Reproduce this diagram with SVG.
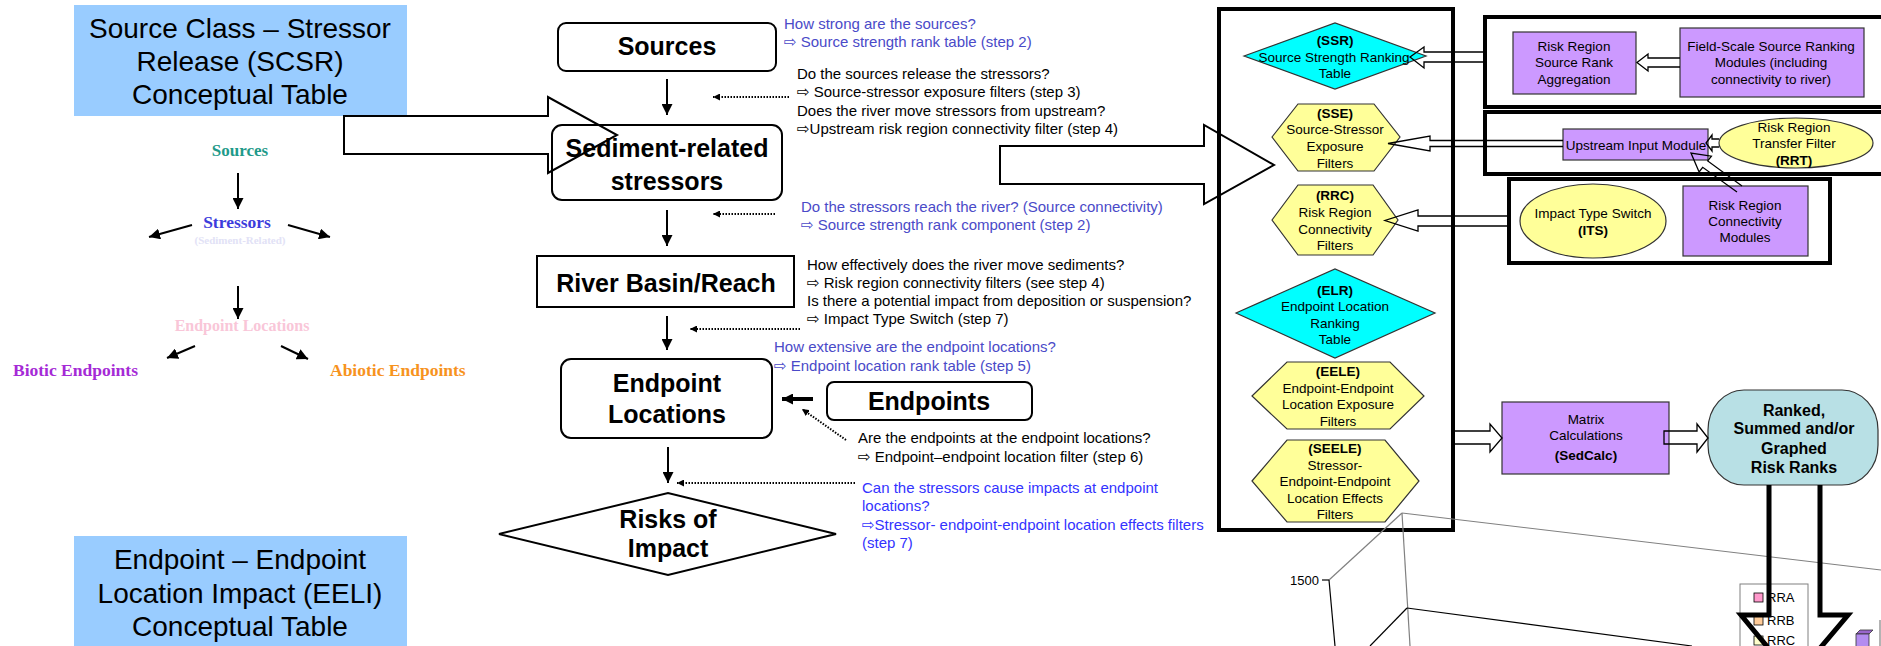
<svg xmlns="http://www.w3.org/2000/svg" width="1881" height="646" viewBox="0 0 1881 646">
  <defs>
    <style>
      .title { font-family: 'Liberation Sans', Arial, sans-serif; font-size: 28px; fill: #000; text-anchor: middle; }
      .nd { font-family: 'Liberation Sans', Arial, sans-serif; font-size: 25px; font-weight: bold; fill: #000; text-anchor: middle; }
      .q { font-family: 'Liberation Sans', 'DejaVu Sans', Arial, sans-serif; font-size: 15px; fill: #000; }
      .qb { fill: #4a4ac8; }
      .qc { fill: #3333ff; }
      .sm { font-family: 'Liberation Sans', Arial, sans-serif; font-size: 13.5px; fill: #000; text-anchor: middle; }
      .b { font-weight: bold; }
      .rk { font-family: 'Liberation Sans', Arial, sans-serif; font-size: 16px; font-weight: bold; fill: #000; text-anchor: middle; }
      .ser { font-family: 'Liberation Serif', 'Times New Roman', serif; font-weight: bold; }
      .lg { font-family: 'Liberation Sans', Arial, sans-serif; font-size: 13px; fill: #000; }
      .box { fill: #fff; stroke: #000; stroke-width: 2; }
      .frame { fill: none; stroke: #000; stroke-width: 4; }
      .purple { fill: #cc99ff; stroke: #333; stroke-width: 1.2; }
      .yellow { fill: #ffff99; stroke: #333; stroke-width: 1.2; }
      .cyan { fill: #00ffff; stroke: #333; stroke-width: 1.2; }
      .flow { fill: none; stroke: #000; stroke-width: 2; }
      .dot { fill: none; stroke: #000; stroke-width: 2; stroke-dasharray: 1.5 1.5; }
      .hollow { fill: none; stroke: #000; stroke-width: 1.3; stroke-linejoin: miter; }
      .big { fill: none; stroke: #000; stroke-width: 2; }
      .grid { fill: none; stroke: #808080; stroke-width: 1.2; }
      .axis { fill: none; stroke: #000; stroke-width: 1.2; }
    </style>
    <marker id="ah" viewBox="0 0 10 10" refX="10" refY="5" markerWidth="11" markerHeight="11" markerUnits="userSpaceOnUse" orient="auto">
      <path d="M0,0 L10,5 L0,10 z" fill="#000"/>
    </marker>
    <marker id="ahs" viewBox="0 0 10 10" refX="10" refY="5" markerWidth="7" markerHeight="7" markerUnits="userSpaceOnUse" orient="auto">
      <path d="M0,0 L10,5 L0,10 z" fill="#000"/>
    </marker>
  </defs>

  <rect x="0" y="0" width="1881" height="646" fill="#fff"/>

  <!-- Left: conceptual table captions -->
  <g id="scsr-title">
    <rect x="74" y="5" width="333" height="111" fill="#99ccff"/>
    <text class="title" x="240" y="38">Source Class – Stressor</text>
    <text class="title" x="240" y="71">Release (SCSR)</text>
    <text class="title" x="240" y="104">Conceptual Table</text>
  </g>
  <g id="eeli-title">
    <rect x="74" y="536" width="333" height="110" fill="#99ccff"/>
    <text class="title" x="240" y="569">Endpoint – Endpoint</text>
    <text class="title" x="240" y="603">Location Impact (EELI)</text>
    <text class="title" x="240" y="636">Conceptual Table</text>
  </g>

  <!-- Left: small conceptual model -->
  <g id="concept-model">
    <text class="ser" x="240" y="156" font-size="17" fill="#1f9a8a" text-anchor="middle">Sources</text>
    <text class="ser" x="237" y="228" font-size="17.5" fill="#3c3cdc" text-anchor="middle">Stressors</text>
    <text class="ser" x="240" y="244" font-size="11" fill="#e2e2f6" text-anchor="middle">(Sediment-Related)</text>
    <text class="ser" x="242" y="331" font-size="16" fill="#f9c6d8" text-anchor="middle">Endpoint Locations</text>
    <text class="ser" x="13" y="376" font-size="17.5" fill="#a52ad6">Biotic Endpoints</text>
    <text class="ser" x="330" y="376" font-size="17.5" fill="#f7931e">Abiotic Endpoints</text>
    <line class="flow" x1="238" y1="173" x2="238" y2="209" marker-end="url(#ah)"/>
    <line class="flow" x1="192" y1="225" x2="149" y2="237" marker-end="url(#ah)"/>
    <line class="flow" x1="288" y1="225" x2="330" y2="237" marker-end="url(#ah)"/>
    <line class="flow" x1="238" y1="286" x2="238" y2="319" marker-end="url(#ah)"/>
    <line class="flow" x1="195" y1="346" x2="167" y2="358" marker-end="url(#ah)"/>
    <line class="flow" x1="281" y1="346" x2="308" y2="359" marker-end="url(#ah)"/>
  </g>

  <!-- Centre flowchart nodes -->
  <g id="sources">
    <rect class="box" x="558" y="23" width="218" height="48" rx="8"/>
    <text class="nd" x="667" y="55">Sources</text>
  </g>
  <g id="sediment-stressors">
    <rect class="box" x="552" y="125" width="230" height="75" rx="10"/>
    <text class="nd" x="667" y="157">Sediment-related</text>
    <text class="nd" x="667" y="190">stressors</text>
  </g>
  <g id="river-basin">
    <rect class="box" x="537" y="256" width="257" height="51"/>
    <text class="nd" x="666" y="292">River Basin/Reach</text>
  </g>
  <g id="endpoint-locations">
    <rect class="box" x="561" y="359" width="211" height="79" rx="10"/>
    <text class="nd" x="667" y="392">Endpoint</text>
    <text class="nd" x="667" y="423">Locations</text>
  </g>
  <g id="endpoints">
    <rect class="box" x="827" y="382" width="205" height="38" rx="7"/>
    <text class="nd" x="929" y="410">Endpoints</text>
  </g>
  <g id="risks">
    <polygon class="box" points="499,534 668,493 836,534 668,575"/>
    <text class="nd" x="668" y="528">Risks of</text>
    <text class="nd" x="668" y="557">Impact</text>
  </g>

  <!-- Centre questions -->
  <g id="questions">
    <text class="q qb" x="784" y="29">How strong are the sources?</text>
    <text class="q qb" x="784" y="47">⇨ Source strength rank table (step 2)</text>
    <text class="q" x="797" y="79">Do the sources release the stressors?</text>
    <text class="q" x="797" y="97">⇨ Source-stressor exposure filters (step 3)</text>
    <text class="q" x="797" y="116">Does the river move stressors from upstream?</text>
    <text class="q" x="797" y="134">⇨Upstream risk region connectivity filter (step 4)</text>
    <text class="q qb" x="801" y="212">Do the stressors reach the river? (Source connectivity)</text>
    <text class="q qb" x="801" y="230">⇨ Source strength rank component (step 2)</text>
    <text class="q" x="807" y="270">How effectively does the river move sediments?</text>
    <text class="q" x="807" y="288">⇨ Risk region connectivity filters (see step 4)</text>
    <text class="q" x="807" y="306">Is there a potential impact from deposition or suspension?</text>
    <text class="q" x="807" y="324">⇨ Impact Type Switch (step 7)</text>
    <text class="q qb" x="774" y="352">How extensive are the endpoint locations?</text>
    <text class="q qb" x="774" y="371">⇨ Endpoint location rank table (step 5)</text>
    <text class="q" x="858" y="443">Are the endpoints at the endpoint locations?</text>
    <text class="q" x="858" y="462">⇨ Endpoint–endpoint location filter (step 6)</text>
    <text class="q qc" x="862" y="493">Can the stressors cause impacts at endpoint</text>
    <text class="q qc" x="862" y="511">locations?</text>
    <text class="q qc" x="862" y="530">⇨Stressor- endpoint-endpoint location effects filters</text>
    <text class="q qc" x="862" y="548">(step 7)</text>
  </g>

  <!-- Right: filter column -->
  <g id="filter-column">
    <rect class="frame" x="1219" y="9" width="234" height="521"/>
  </g>
  <g id="ssr">
    <polygon class="cyan" points="1244,56 1335,23 1426,56 1335,89"/>
    <text class="sm b" x="1335" y="45">(SSR)</text>
    <text class="sm" x="1334" y="62">Source Strength Ranking</text>
    <text class="sm" x="1335" y="78">Table</text>
  </g>
  <g id="sse">
    <polygon class="yellow" points="1272,137 1298,104 1374,104 1400,137 1374,171 1298,171"/>
    <text class="sm b" x="1335" y="118">(SSE)</text>
    <text class="sm" x="1335" y="134">Source-Stressor</text>
    <text class="sm" x="1335" y="151">Exposure</text>
    <text class="sm" x="1335" y="168">Filters</text>
  </g>
  <g id="rrc">
    <polygon class="yellow" points="1272,220 1298,185 1373,185 1398,220 1373,255 1298,255"/>
    <text class="sm b" x="1335" y="200">(RRC)</text>
    <text class="sm" x="1335" y="217">Risk Region</text>
    <text class="sm" x="1335" y="234">Connectivity</text>
    <text class="sm" x="1335" y="250">Filters</text>
  </g>
  <g id="elr">
    <polygon class="cyan" points="1236,313 1335,269 1435,313 1335,358"/>
    <text class="sm b" x="1335" y="295">(ELR)</text>
    <text class="sm" x="1335" y="311">Endpoint Location</text>
    <text class="sm" x="1335" y="328">Ranking</text>
    <text class="sm" x="1335" y="344">Table</text>
  </g>
  <g id="eele">
    <polygon class="yellow" points="1252,396 1287,362 1390,362 1424,396 1390,429 1287,429"/>
    <text class="sm b" x="1338" y="376">(EELE)</text>
    <text class="sm" x="1338" y="393">Endpoint-Endpoint</text>
    <text class="sm" x="1338" y="409">Location Exposure</text>
    <text class="sm" x="1338" y="426">Filters</text>
  </g>
  <g id="seele">
    <polygon class="yellow" points="1252,481 1287,440 1385,440 1419,481 1385,522 1287,522"/>
    <text class="sm b" x="1335" y="453">(SEELE)</text>
    <text class="sm" x="1335" y="470">Stressor-</text>
    <text class="sm" x="1335" y="486">Endpoint-Endpoint</text>
    <text class="sm" x="1335" y="503">Location Effects</text>
    <text class="sm" x="1335" y="519">Filters</text>
  </g>

  <!-- Right: module groups -->
  <g id="source-ranking-group">
    <rect class="frame" x="1485" y="17" width="420" height="90"/>
  </g>
  <g id="rr-source-rank">
    <rect class="purple" x="1513" y="32" width="123" height="62"/>
    <text class="sm" x="1574" y="51">Risk Region</text>
    <text class="sm" x="1574" y="67">Source Rank</text>
    <text class="sm" x="1574" y="84">Aggregation</text>
  </g>
  <g id="field-scale">
    <rect class="purple" x="1680" y="28" width="184" height="69"/>
    <text class="sm" x="1771" y="51">Field-Scale Source Ranking</text>
    <text class="sm" x="1771" y="67">Modules (including</text>
    <text class="sm" x="1771" y="84">connectivity to river)</text>
  </g>
  <g id="upstream-group">
    <rect class="frame" x="1485" y="112" width="420" height="62"/>
  </g>
  <g id="upstream-input">
    <rect class="purple" x="1563" y="129" width="145" height="31"/>
    <text class="sm" x="1636" y="150">Upstream Input Module</text>
  </g>
  <g id="rrt">
    <ellipse class="yellow" cx="1796" cy="143" rx="77" ry="25"/>
    <text class="sm" x="1794" y="132">Risk Region</text>
    <text class="sm" x="1794" y="148">Transfer Filter</text>
    <text class="sm b" x="1794" y="165">(RRT)</text>
  </g>
  <g id="connectivity-group">
    <rect class="frame" x="1509" y="179" width="321" height="84"/>
  </g>
  <g id="its">
    <ellipse class="yellow" cx="1593" cy="221" rx="73" ry="37"/>
    <text class="sm" x="1593" y="218">Impact Type Switch</text>
    <text class="sm b" x="1593" y="235">(ITS)</text>
  </g>
  <g id="rr-connectivity">
    <rect class="purple" x="1683" y="186" width="125" height="70"/>
    <text class="sm" x="1745" y="210">Risk Region</text>
    <text class="sm" x="1745" y="226">Connectivity</text>
    <text class="sm" x="1745" y="242">Modules</text>
  </g>
  <g id="sedcalc">
    <rect class="purple" x="1502" y="402" width="167" height="72"/>
    <text class="sm" x="1586" y="424">Matrix</text>
    <text class="sm" x="1586" y="440">Calculations</text>
    <text class="sm b" x="1586" y="460" font-size="15">(SedCalc)</text>
  </g>

  <!-- Chart behind the output arrow -->
  <g id="chart">
    <line class="grid" x1="1402" y1="513" x2="1329" y2="580"/>
    <line class="grid" x1="1402" y1="513" x2="1881" y2="570"/>
    <line class="grid" x1="1402" y1="513" x2="1410" y2="646"/>
    <line class="axis" x1="1329" y1="580" x2="1335" y2="646"/>
    <line class="axis" x1="1322" y1="580" x2="1329" y2="580"/>
    <text class="lg" x="1319" y="585" text-anchor="end">1500</text>
    <line class="axis" x1="1407" y1="608" x2="1370" y2="646"/>
    <line class="axis" x1="1407" y1="608" x2="1692" y2="646"/>
    <rect x="1740" y="584" width="68" height="80" fill="#fff" stroke="#808080" stroke-width="1"/>
    <rect x="1754" y="593" width="9" height="9" fill="#ff99cc" stroke="#000" stroke-width="0.8"/>
    <text class="lg" x="1767" y="602">RRA</text>
    <rect x="1754" y="616" width="9" height="9" fill="#ffcc99" stroke="#000" stroke-width="0.8"/>
    <text class="lg" x="1767" y="625">RRB</text>
    <rect x="1754" y="636" width="9" height="9" fill="#ffffcc" stroke="#000" stroke-width="0.8"/>
    <text class="lg" x="1767" y="645">RRC</text>
    <polygon points="1856,634 1860,630 1873,630 1869,634" fill="#9966cc" stroke="#333" stroke-width="0.8"/>
    <rect x="1856" y="634" width="13" height="14" fill="#b38cf0" stroke="#333" stroke-width="0.8"/>
    <line class="grid" x1="1880" y1="620" x2="1880" y2="646"/>
  </g>

  <g id="ranked">
    <rect x="1708" y="390" width="170" height="95" rx="36" ry="40" fill="#b8e0e5" stroke="#333" stroke-width="1.2"/>
    <text class="rk" x="1794" y="416">Ranked,</text>
    <text class="rk" x="1794" y="434">Summed and/or</text>
    <text class="rk" x="1794" y="454">Graphed</text>
    <text class="rk" x="1794" y="473">Risk Ranks</text>
  </g>

  <!-- Connectors -->
  <g id="connectors">
    <!-- main flow -->
    <line class="flow" x1="667" y1="79" x2="667" y2="115" marker-end="url(#ah)"/>
    <line class="flow" x1="667" y1="210" x2="667" y2="246" marker-end="url(#ah)"/>
    <line class="flow" x1="667" y1="316" x2="667" y2="350" marker-end="url(#ah)"/>
    <line class="flow" x1="668" y1="447" x2="668" y2="483" marker-end="url(#ah)"/>
    <line x1="813" y1="399" x2="782" y2="399" stroke="#000" stroke-width="4" marker-end="url(#ah)"/>
    <!-- question pointers -->
    <line class="dot" x1="789" y1="97" x2="713" y2="97" marker-end="url(#ahs)"/>
    <line class="dot" x1="775" y1="214" x2="713" y2="214" marker-end="url(#ahs)"/>
    <line class="dot" x1="800" y1="329" x2="690" y2="329" marker-end="url(#ahs)"/>
    <line class="dot" x1="846" y1="440" x2="802" y2="409" marker-end="url(#ahs)"/>
    <line class="dot" x1="855" y1="483" x2="677" y2="483" marker-end="url(#ahs)"/>
    <!-- large block arrows -->
    <path class="big" d="M344,116 L548,116 L548,97 L617,135 L548,173 L548,154 L344,154 Z"/>
    <path class="big" d="M1000,146 L1204,146 L1204,125 L1274,165 L1204,204 L1204,184 L1000,184 Z"/>
    <!-- module arrows -->
    <path class="hollow" d="M1485,52 L1424,52 L1424,47 L1410,57 L1424,68 L1424,62 L1485,62"/>
    <path class="hollow" d="M1680,58 L1648,58 L1648,54 L1637,62.5 L1648,71 L1648,67 L1680,67"/>
    <path class="hollow" d="M1563,140.5 L1430,140.5 L1430,136 L1388,143.5 L1430,151 L1430,146.5 L1563,146.5"/>
    <path class="hollow" d="M1719,139 L1712,139 L1712,135 L1706,143 L1712,151 L1712,147 L1719,147"/>
    <path class="hollow" d="M1742,186 L1707.7,160.9 L1711.4,156.2 L1691,153 L1699.1,172 L1702.7,167.3 L1737,192"/>
    <path class="hollow" d="M1509,216 L1418,216 L1418,210 L1385,220.5 L1418,231 L1418,226 L1509,226"/>
    <path class="hollow" d="M1453,431 L1490,431 L1490,424 L1502,438 L1490,452 L1490,444 L1453,444"/>
    <path class="hollow" d="M1664,431 L1697,431 L1697,424 L1708,438 L1697,452 L1697,444 L1664,444 Z"/>
    <!-- output arrow -->
    <path d="M1769,485 L1769,615 L1741,615 L1794,679 L1848,615 L1820,615 L1820,485" fill="none" stroke="#000" stroke-width="5" stroke-linejoin="miter"/>
  </g>
</svg>
